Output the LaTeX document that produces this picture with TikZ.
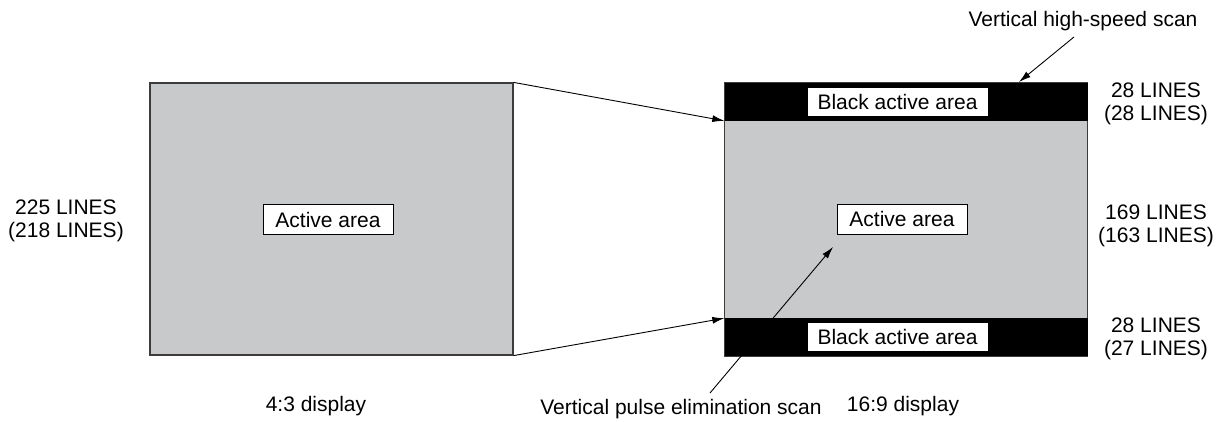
\documentclass[tikz,border=0pt]{standalone}
\usepackage{fontspec}
\setmainfont{Liberation Sans}
\usetikzlibrary{arrows.meta}
\definecolor{screengray}{RGB}{200,201,203}
\definecolor{edgegray}{RGB}{60,60,60}
\tikzset{
  screen/.style={draw=edgegray, line width=1.2pt, fill=screengray, inner sep=0pt},
  band/.style={fill=black, inner sep=0pt, minimum height=38pt, minimum width=363pt},
  tag/.style={draw=black, line width=0.8pt, fill=white, inner sep=0pt, minimum height=29pt},
  lbl/.style={align=center, inner sep=0pt},
  conn/.style={line width=0.9pt, -{Latex[length=12pt,width=7pt]}}
}
\begin{document}
\begin{tikzpicture}[x=1pt, y=-1pt, font=\fontsize{21}{23.5}\selectfont]
        \useasboundingbox (0, 0) rectangle (1226, 422);

        % 4:3 display
        \node[screen, minimum width=363pt, minimum height=272pt] (old) at (331.5, 219) {};
        \node[tag, minimum width=130pt, minimum height=30pt] (oldact) at (328, 219.5) {Active area};
        \node[lbl] (oldlines) at (66, 221) {225 LINES\\(218 LINES)};
        \node[lbl] (oldcap) at (316, 406) {4:3 display};

        % 16:9 display
        \node[screen, minimum width=363pt, minimum height=273pt] (wide) at (906, 219.5) {};
        \node[band, anchor=north] (topband) at (wide.north) {};
        \node[band, anchor=south] (botband) at (wide.south) {};
        \node[tag, minimum width=181pt] (topact) at (897.5, 101.5) {Black active area};
        \node[tag, minimum width=181pt] (botact) at (897.5, 337) {Black active area};
        \node[tag, minimum width=130pt, minimum height=30pt] (wideact) at (902, 219) {Active area};
        \node[lbl] (toplines) at (1156, 104) {28 LINES\\(28 LINES)};
        \node[lbl] (midlines) at (1156, 226) {169 LINES\\(163 LINES)};
        \node[lbl] (botlines) at (1156, 339) {28 LINES\\(27 LINES)};
        \node[lbl] (widecap) at (903, 406) {16:9 display};

        % scan labels
        \node[lbl] (highscan) at (1083, 21) {Vertical high-speed scan};
        \node[lbl] (pulsescan) at (681, 409) {Vertical pulse elimination scan};
        \coordinate (highfrom) at (1074, 37);
        \coordinate (highto) at (1019, 82);
        \coordinate (pulsefrom) at (710, 393);
        \coordinate (pulseto) at (833, 247);

        \draw[conn] (old.north east) -- (topband.south west);
        \draw[conn] (old.south east) -- (botband.north west);
        \draw[conn] (highfrom) -- (highto);
        \draw[conn] (pulsefrom) -- (pulseto);
    \end{tikzpicture}
\end{document}
